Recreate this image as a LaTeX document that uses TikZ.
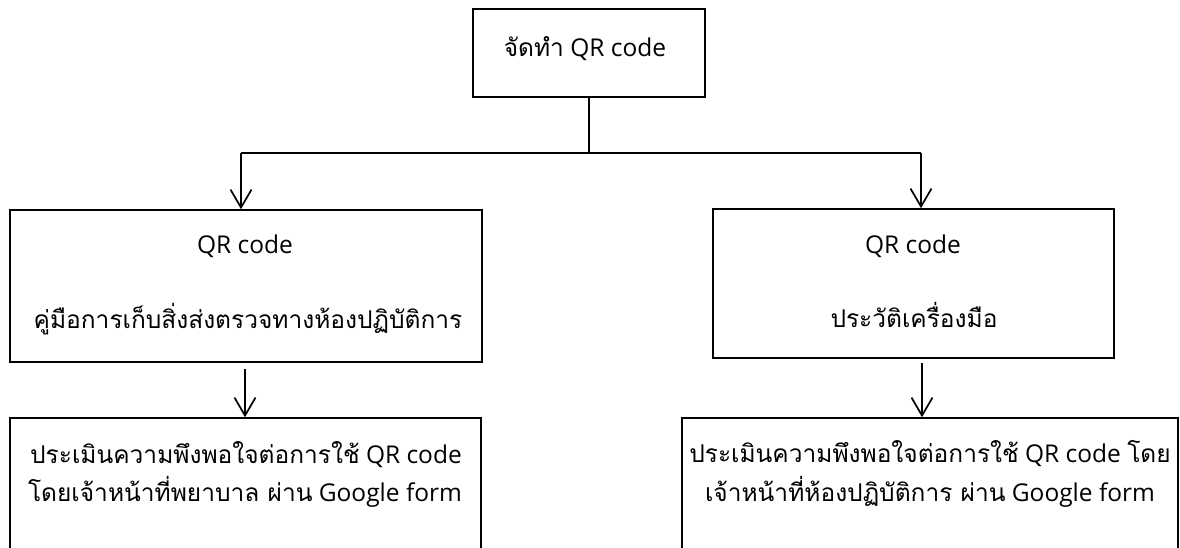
\documentclass[tikz,border=0pt]{standalone}
\usepackage{fontspec}
\setmainfont{Open Sans}[Scale=1.0]
\newfontfamily\thai[Script=Thai]{Loma}
\usetikzlibrary{arrows.meta}
\begin{document}
\begin{tikzpicture}[x=1pt,y=-1pt,
  box/.style={draw, line width=1.5pt, rectangle, inner sep=0pt},
  txt/.style={font=\fontsize{24.5}{30}\selectfont, inner sep=0pt, anchor=base},
  conn/.style={line width=1.7pt},
  arr/.style={conn, -{Straight Barb[length=18pt,width=21pt,line width=1.7pt]}}]
\useasboundingbox (0,0) rectangle (1180,548);
% boxes
\node[box, minimum width=232pt, minimum height=88pt] (top) at (589,53) {};
\node[box, minimum width=472pt, minimum height=152pt] (ml) at (246,286) {};
\node[box, minimum width=401pt, minimum height=149pt] (mr) at (913.5,283.5) {};
\node[box, minimum width=471pt, minimum height=182pt] (bl) at (245.5,509) {};
\node[box, minimum width=496pt, minimum height=182pt] (br) at (930,509) {};
% texts
\node[txt] (t0) at (585,57) {{\thai จัดทำ} QR code};
\node[txt] (t1) at (245,253) {QR code};
\node[txt] (t2) at (248,328) {\thai คู่มือการเก็บสิ่งส่งตรวจทางห้องปฏิบัติการ};
\node[txt] (t3) at (913,253) {QR code};
\node[txt] (t4) at (914,327) {\thai ประวัติเครื่องมือ};
\node[txt] (t5) at (246,463) {{\thai ประเมินความพึงพอใจต่อการใช้} QR code};
\node[txt] (t6) at (245,501) {{\thai โดยเจ้าหน้าที่พยาบาล ผ่าน} Google form};
\node[txt] (t7) at (930,462) {{\thai ประเมินความพึงพอใจต่อการใช้} QR code {\thai โดย}};
\node[txt] (t8) at (930,501) {{\thai เจ้าหน้าที่ห้องปฏิบัติการ ผ่าน} Google form};
% connectors
\coordinate (hl) at (241,153);
\coordinate (hr) at (921,153);
\draw[conn] (top.south) -- (top.south |- hl);
\draw[conn] (hl) -- (hr);
\draw[arr] (hl) -- (hl |- ml.north);
\draw[arr] (hr) -- (hr |- mr.north);
\draw[arr, shorten <=6pt] ([xshift=-1pt]ml.south) -- ([xshift=-1pt]ml.south |- bl.north);
\draw[arr, shorten <=4pt] ([xshift=8.5pt]mr.south) -- ([xshift=8.5pt]mr.south |- br.north);
\end{tikzpicture}
\end{document}
